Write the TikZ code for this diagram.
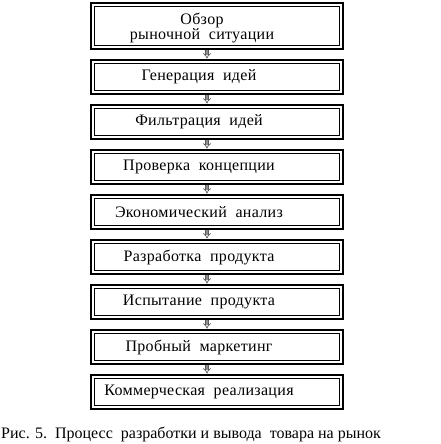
\documentclass[tikz,border=0pt]{standalone}
\usepackage{fontspec}
\setmainfont{Liberation Serif}
\newfontfamily\boite{Liberation Serif}[LetterSpace=2]
\usetikzlibrary{arrows.meta}

\begin{document}
\begin{tikzpicture}[x=1pt, y=1pt]
			\tikzset{bloc/.style={rectangle, draw=black, line width=2.8pt, minimum width=252pt, minimum height=34pt, inner sep=0pt},
				cadre/.style={draw=black, line width=1pt},
				texte/.style={xshift=-18pt, font=\boite\fontsize{16}{13.5}\selectfont, align=center},
				fleche/.style={draw=black!65, line width=0.7pt, double=black!45, double distance=2pt, -{Implies}}};
			\useasboundingbox (0,0) rectangle (440,-444);

			\node[bloc, minimum height=46pt, label={[texte, xshift=3pt, yshift=-2pt]center:Обзор\\рыночной\ \ ситуации}] (b1) at (217, -26) {};
			\node[bloc, label={[texte]center:Генерация\ \ идей}]               (b2) at (217, -77) {};
			\node[bloc, label={[texte]center:Фильтрация\ \ идей}]              (b3) at (217,-122) {};
			\node[bloc, label={[texte]center:Проверка\ \ концепции}]           (b4) at (217,-167) {};
			\node[bloc, label={[texte]center:Экономический\ \ анализ}]         (b5) at (217,-212) {};
			\node[bloc, label={[texte]center:Разработка\ \ продукта}]          (b6) at (217,-257) {};
			\node[bloc, label={[texte]center:Испытание\ \ продукта}]           (b7) at (217,-302) {};
			\node[bloc, label={[texte]center:Пробный\ \ маркетинг}]            (b8) at (217,-347) {};
			\node[bloc, label={[texte]center:Коммерческая\ \ реализация}]      (b9) at (217,-392) {};

			% cadre interieur
			\foreach \b in {b1,b2,b3,b4,b5,b6,b7,b8,b9}
				\draw[cadre] ([shift={(5pt,-5pt)}]\b.north west) rectangle ([shift={(-5pt,5pt)}]\b.south east);

			\node[anchor=base west, font=\fontsize{16}{18}\selectfont, inner sep=0pt] (legende) at (1,-438) {Рис. 5.\ \ Процесс\ \ разработки и вывода\ \ товара на рынок};

			\draw[fleche] ([xshift=-10pt]b1.south) to ([xshift=-10pt]b2.north);
			\draw[fleche] ([xshift=-10pt]b2.south) to ([xshift=-10pt]b3.north);
			\draw[fleche] ([xshift=-10pt]b3.south) to ([xshift=-10pt]b4.north);
			\draw[fleche] ([xshift=-10pt]b4.south) to ([xshift=-10pt]b5.north);
			\draw[fleche] ([xshift=-10pt]b5.south) to ([xshift=-10pt]b6.north);
			\draw[fleche] ([xshift=-10pt]b6.south) to ([xshift=-10pt]b7.north);
			\draw[fleche] ([xshift=-10pt]b7.south) to ([xshift=-10pt]b8.north);
			\draw[fleche] ([xshift=-10pt]b8.south) to ([xshift=-10pt]b9.north);

		\end{tikzpicture}
\end{document}
